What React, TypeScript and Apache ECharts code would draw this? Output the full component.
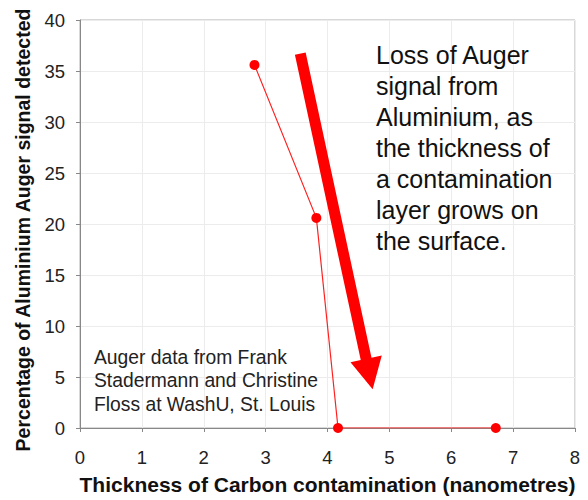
import React, { useEffect, useRef } from "react";
import * as echarts from "echarts";

const thickness = [2.82, 3.82, 4.17, 6.72];
const signalPercent = [35.6, 20.6, 0, 0];
const xTicks = { min: 0, max: 8, interval: 1 };
const yTicks = { min: 0, max: 40, interval: 5 };
const arrowFrom = [3.56, 36.7];
const arrowTo = [4.73, 3.8];
const xTitle = "Thickness of Carbon contamination (nanometres)";
const yTitle = "Percentage of Aluminium Auger signal detected";
const noteText = [
  "Loss of Auger",
  "signal from",
  "Aluminium, as",
  "the thickness of",
  "a contamination",
  "layer grows on",
  "the surface.",
];
const creditText = [
  "Auger data from Frank",
  "Stadermann and Christine",
  "Floss at WashU, St. Louis",
];

const FONT = '"Liberation Sans", Arial, Helvetica, sans-serif';

export default function App() {
  const ref = useRef<HTMLDivElement>(null);
  useEffect(() => {
    if (!ref.current) return;
    const chart = echarts.init(ref.current, undefined, { renderer: "svg" });
    const option: any = {
      animation: false,
      backgroundColor: "#ffffff",
      grid: {
        left: 80,
        right: 13,
        top: 20,
        bottom: 70,
        show: true,
        borderColor: "#b0b0b0",
        borderWidth: 1,
      },
      xAxis: {
        type: "value",
        min: xTicks.min,
        max: xTicks.max,
        interval: xTicks.interval,
        name: xTitle,
        nameLocation: "middle",
        nameGap: 46,
        nameTextStyle: { fontFamily: FONT, fontWeight: "bold", fontSize: 21, color: "#111" },
        axisLine: { show: true, lineStyle: { color: "#888", width: 1 } },
        axisTick: { show: true, length: 4, lineStyle: { color: "#888" } },
        axisLabel: { fontFamily: FONT, fontSize: 18.5, color: "#222", margin: 20 },
        splitLine: { show: true, lineStyle: { color: "#ececec", width: 1 } },
      },
      yAxis: {
        type: "value",
        min: yTicks.min,
        max: yTicks.max,
        interval: yTicks.interval,
        name: yTitle,
        nameLocation: "middle",
        nameGap: 47,
        nameTextStyle: { fontFamily: FONT, fontWeight: "bold", fontSize: 19.5, color: "#111", padding: [0, 0, 0, -12] },
        axisLine: { show: true, lineStyle: { color: "#888", width: 1 } },
        axisTick: { show: true, length: 4, lineStyle: { color: "#888" } },
        axisLabel: { fontFamily: FONT, fontSize: 18.5, color: "#222", margin: 15 },
        splitLine: { show: true, lineStyle: { color: "#ececec", width: 1 } },
      },
      series: [
        {
          type: "line",
          data: thickness.map((x, i) => [x, signalPercent[i]]),
          symbol: "circle",
          symbolSize: 10,
          itemStyle: { color: "#ff0000" },
          lineStyle: { color: "#ff2020", width: 1.2 },
          z: 3,
        },
      ],
    };
    chart.setOption(option);

    const s = chart.convertToPixel({ gridIndex: 0 }, arrowFrom) as number[];
    const t = chart.convertToPixel({ gridIndex: 0 }, arrowTo) as number[];
    const dx = t[0] - s[0];
    const dy = t[1] - s[1];
    const len = Math.sqrt(dx * dx + dy * dy);
    const ux = dx / len;
    const uy = dy / len;
    const px = -uy;
    const py = ux;
    const shaftHalf = 5.5;
    const headLen = 31;
    const headHalf = 16;
    const b = [t[0] - ux * headLen, t[1] - uy * headLen];
    const arrowPoints = [
      [s[0] + px * shaftHalf, s[1] + py * shaftHalf],
      [b[0] + px * shaftHalf, b[1] + py * shaftHalf],
      [b[0] + px * headHalf, b[1] + py * headHalf],
      [t[0], t[1]],
      [b[0] - px * headHalf, b[1] - py * headHalf],
      [b[0] - px * shaftHalf, b[1] - py * shaftHalf],
      [s[0] - px * shaftHalf, s[1] - py * shaftHalf],
    ];

    chart.setOption({
      graphic: [
        {
          type: "polygon",
          shape: { points: arrowPoints },
          style: { fill: "#ff0000" },
          z: 10,
        },
        {
          type: "text",
          left: 376,
          top: 39,
          style: {
            text: noteText.join("\n"),
            fontFamily: FONT,
            fontSize: 25,
            lineHeight: 31,
            fill: "#111",
          },
          z: 10,
        },
        {
          type: "text",
          left: 94,
          top: 346,
          style: {
            text: creditText.join("\n"),
            fontFamily: FONT,
            fontSize: 19.3,
            lineHeight: 23.3,
            fill: "#222",
          },
          z: 10,
        },
      ],
    });

    return () => chart.dispose();
  }, []);
  return <div ref={ref} style={{ width: 588, height: 500, position: "absolute", left: 0, top: 0 }} />;
}
